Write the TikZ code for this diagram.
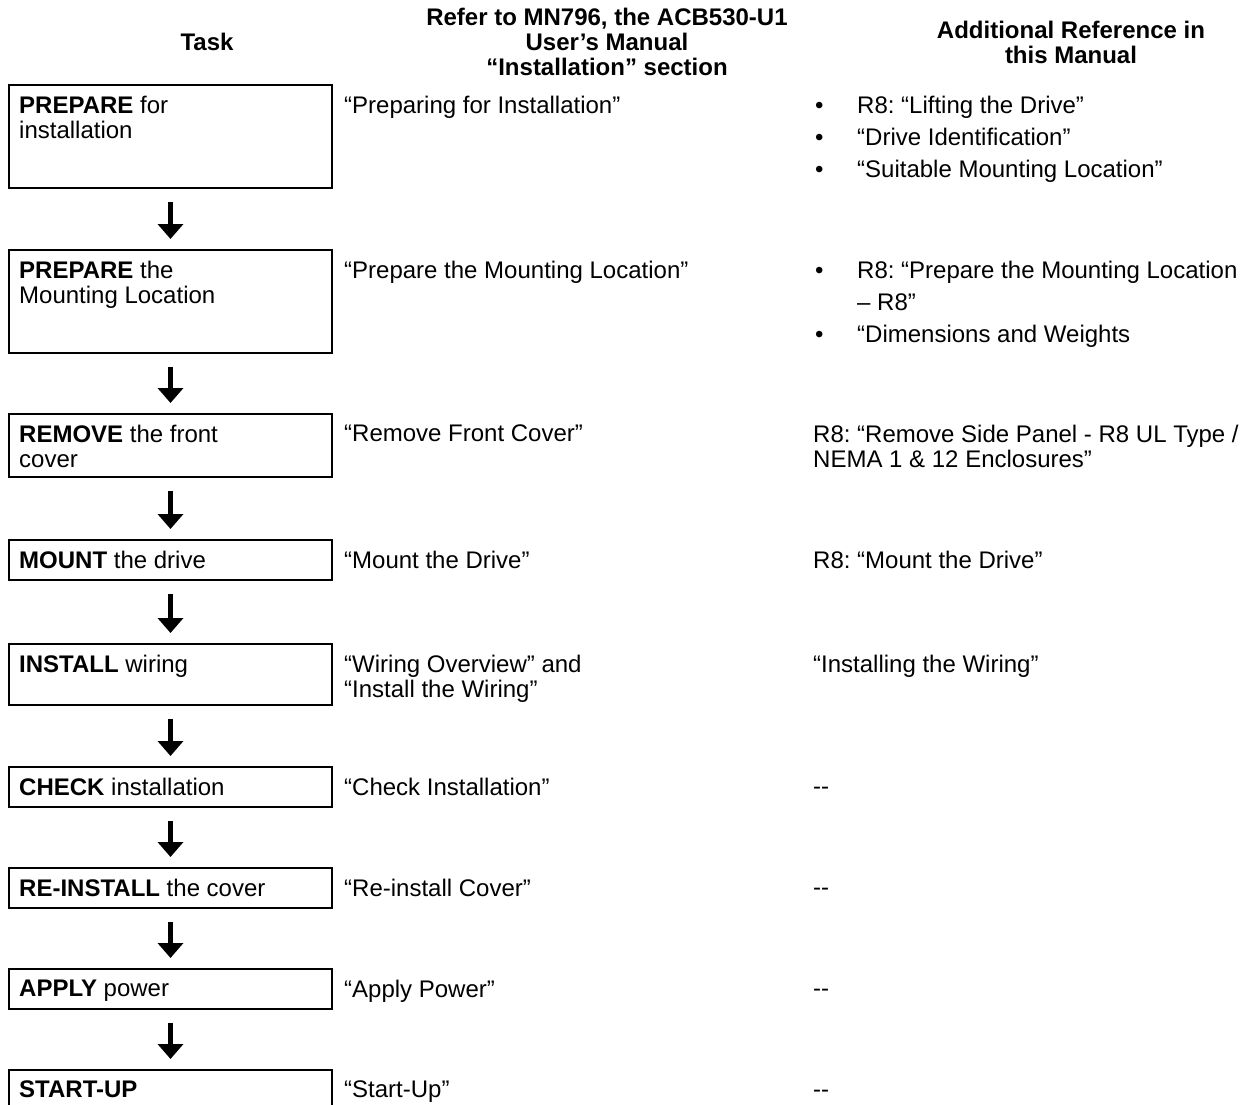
\documentclass[tikz,border=0pt]{standalone}
\usepackage{fontspec}
\setmainfont{Liberation Sans}
\usetikzlibrary{positioning}
\usetikzlibrary{arrows.meta}
\frenchspacing
\newcommand{\refdot}{\llap{\makebox[42pt][l]{•}}}

\begin{document}
\begin{tikzpicture}[x=1pt,y=-1pt,
    every node/.style={inner sep=0pt, font=\fontsize{24}{25}\selectfont},
    taskbox/.style={draw, line width=2pt, anchor=north west, minimum width=323pt},
    celltext/.style={anchor=north west, align=left},
    refline/.style={anchor=north west, align=left, font=\fontsize{24}{32}\selectfont},
    headtext/.style={align=center, font=\bfseries\fontsize{24}{25}\selectfont},
    flowarrow/.style={-{Triangle[width=25pt,length=15pt]}, line width=4.5pt, shorten <=13pt, shorten >=10pt}]

    \useasboundingbox (0,0) rectangle (1255,1105);

    % Column heads
    \node[headtext] (taskhead) at (207,42) {Task};
    \node[headtext] (manualhead) at (607,42) {Refer to MN796, the ACB530-U1\\User’s Manual\\“Installation” section};
    \node[headtext] (extrahead) at (1071,42) {Additional Reference in\\this Manual};

    % Task boxes
    \foreach \nm/\ytop/\boxh/\txt in {
        prep/84/103/{\textbf{PREPARE} for\\installation},
        site/249/103/{\textbf{PREPARE} the\\Mounting Location},
        cover/413/63/{\textbf{REMOVE} the front\\cover},
        mount/539/40/{\textbf{MOUNT} the drive},
        wiring/643/61/{\textbf{INSTALL} wiring},
        check/766/40/{\textbf{CHECK} installation},
        reinst/867/40/{\textbf{RE-INSTALL} the cover},
        power/968/40/{\textbf{APPLY} power},
        start/1069/45/{\textbf{START-UP}}}
    {
        \node[taskbox, minimum height=\boxh pt] (\nm) at (8,\ytop) {};
        \node[celltext] (\nm-text) at ([xshift=11pt, yshift=-12pt]\nm.north west) {\txt};
    }

    % Arrows between the steps
    \foreach \a/\b in {prep/site, site/cover, cover/mount, mount/wiring, wiring/check, check/reinst, reinst/power, power/start}
        \draw[flowarrow] (\a) -- (\b);

    % Manual sections
    \foreach \nm/\txt in {
        prep/{“Preparing for Installation”},
        site/{“Prepare the Mounting Location”},
        cover/{“Remove Front Cover”},
        mount/{“Mount the Drive”},
        wiring/{“Wiring Overview” and\\“Install the Wiring”},
        check/{“Check Installation”},
        reinst/{“Re-install Cover”},
        power/{“Apply Power”},
        start/{“Start-Up”}}
        \node[celltext] (\nm-manual) at ([xshift=11pt, yshift=-12pt]\nm.north east) {\txt};

    % Additional references
    \node[refline] (prep-ref) at (857,96) {\refdot R8: “Lifting the Drive”\\\refdot “Drive Identification”\\\refdot “Suitable Mounting Location”};
    \node[refline] (site-ref) at (857,261) {\refdot R8: “Prepare the Mounting Location\\– R8”\\\refdot “Dimensions and Weights};
    \node[celltext] (cover-ref) at (813,425) {R8: “Remove Side Panel - R8 UL Type /\\NEMA 1 \& 12 Enclosures”};
    \node[celltext] (mount-ref) at (813,551) {R8: “Mount the Drive”};
    \node[celltext] (wiring-ref) at (813,655) {“Installing the Wiring”};
    \foreach \nm/\ytop in {check/778, reinst/879, power/980, start/1081}
        \node[celltext] (\nm-ref) at (813,\ytop) {\vphantom{R}{-}{-}};
\end{tikzpicture}
\end{document}
